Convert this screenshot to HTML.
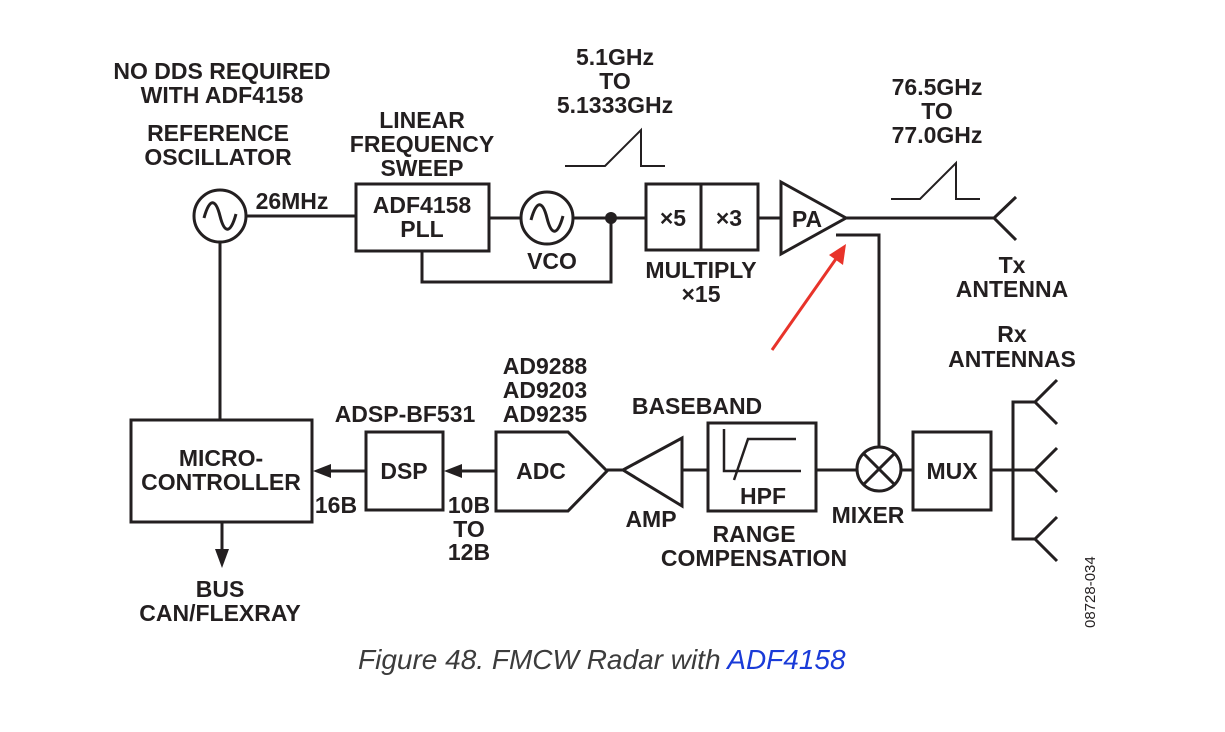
<!DOCTYPE html>
<html><head><meta charset="utf-8"><style>
html,body{margin:0;padding:0;background:#fff;}
svg{display:block;}
text{font-family:"Liberation Sans",Arial,sans-serif;font-weight:bold;font-size:23px;fill:#231f20;}
</style></head><body>
<svg width="1225" height="732" viewBox="0 0 1225 732" xmlns="http://www.w3.org/2000/svg">
<g stroke="#231f20" stroke-width="3" fill="none">
<circle cx="220" cy="216" r="26"/>
<path d="M204,218 C210,196 216,200 220,216 C224,232 230,236 236,214"/>
<line x1="246" y1="216" x2="356" y2="216"/>
<rect x="356" y="184" width="133" height="67"/>
<circle cx="547" cy="218" r="26"/>
<path d="M531,220 C537,198 543,202 547,218 C551,234 557,238 563,216"/>
<line x1="489" y1="218" x2="521" y2="218"/>
<line x1="573" y1="218" x2="646" y2="218"/>
<polyline points="422,251 422,282 611,282 611,218"/>
<rect x="646" y="184" width="112" height="66"/>
<line x1="701" y1="184" x2="701" y2="250"/>
<line x1="758" y1="218" x2="781" y2="218"/>
<polygon points="781,182 846,218 781,254"/>
<line x1="846" y1="218" x2="994" y2="218"/>
<polyline points="1016,197 994,218 1016,240"/>
<polyline points="836,235 879,235 879,447"/>
<polyline points="565,166 605,166 641,130 641,166 665,166" stroke-width="2"/>
<polyline points="891,199 920,199 956,163 956,199 980,199" stroke-width="2"/>
<line x1="220" y1="242" x2="220" y2="420"/>
<rect x="131" y="420" width="181" height="102"/>
<line x1="222" y1="522" x2="222" y2="550"/>
<rect x="366" y="432" width="77" height="78"/>
<line x1="330" y1="471" x2="366" y2="471"/>
<line x1="460" y1="471" x2="496" y2="471"/>
<polygon points="496,432 568,432 607,471 568,511 496,511"/>
<line x1="607" y1="470" x2="623" y2="470"/>
<polygon points="623,470 682,438 682,506"/>
<line x1="682" y1="470" x2="708" y2="470"/>
<rect x="708" y="423" width="108" height="88"/>
<polyline points="724,429 724,471 801,471" stroke-width="2.5"/>
<polyline points="734,480 748,439 796,439" stroke-width="2.5"/>
<line x1="816" y1="470" x2="857" y2="470"/>
<circle cx="879" cy="469" r="22"/>
<line x1="864" y1="454" x2="894" y2="484"/>
<line x1="894" y1="454" x2="864" y2="484"/>
<line x1="901" y1="470" x2="913" y2="470"/>
<rect x="913" y="432" width="78" height="78"/>
<line x1="991" y1="470" x2="1035" y2="470"/>
<polyline points="1035,402 1013,402 1013,539 1035,539"/>
<polyline points="1057,380 1035,402 1057,424"/>
<polyline points="1057,448 1035,470 1057,492"/>
<polyline points="1057,517 1035,539 1057,561"/>
</g>
<g fill="#231f20">
<circle cx="611" cy="218" r="6"/>
<polygon points="313,471 331,464 331,478"/>
<polygon points="444,471 462,464 462,478"/>
<polygon points="222,568 215,549 229,549"/>
</g>
<line x1="772" y1="350" x2="838" y2="256" stroke="#e8332a" stroke-width="3"/>
<polygon points="846,244 843,265 829,255" fill="#e8332a"/>
<g text-anchor="middle">
<text x="222" y="79">NO DDS REQUIRED</text>
<text x="222" y="103">WITH ADF4158</text>
<text x="218" y="141">REFERENCE</text>
<text x="218" y="165">OSCILLATOR</text>
<text x="292" y="209">26MHz</text>
<text x="422" y="128">LINEAR</text>
<text x="422" y="152">FREQUENCY</text>
<text x="422" y="176">SWEEP</text>
<text x="422" y="213">ADF4158</text>
<text x="422" y="237">PLL</text>
<text x="552" y="269">VCO</text>
<text x="615" y="65">5.1GHz</text>
<text x="615" y="89">TO</text>
<text x="615" y="113">5.1333GHz</text>
<text x="673" y="226">×5</text>
<text x="729" y="226">×3</text>
<text x="807" y="227">PA</text>
<text x="701" y="278">MULTIPLY</text>
<text x="701" y="302">×15</text>
<text x="937" y="95">76.5GHz</text>
<text x="937" y="119">TO</text>
<text x="937" y="143">77.0GHz</text>
<text x="1012" y="273">Tx</text>
<text x="1012" y="297">ANTENNA</text>
<text x="1012" y="342">Rx</text>
<text x="1012" y="367">ANTENNAS</text>
<text x="545" y="374">AD9288</text>
<text x="545" y="398">AD9203</text>
<text x="545" y="422">AD9235</text>
<text x="405" y="422">ADSP-BF531</text>
<text x="697" y="414">BASEBAND</text>
<text x="221" y="466">MICRO-</text>
<text x="221" y="490">CONTROLLER</text>
<text x="404" y="479">DSP</text>
<text x="541" y="479">ADC</text>
<text x="763" y="504">HPF</text>
<text x="952" y="479">MUX</text>
<text x="336" y="513">16B</text>
<text x="469" y="513">10B</text>
<text x="469" y="537">TO</text>
<text x="469" y="560">12B</text>
<text x="651" y="527">AMP</text>
<text x="754" y="542">RANGE</text>
<text x="754" y="566">COMPENSATION</text>
<text x="868" y="523">MIXER</text>
<text x="220" y="597">BUS</text>
<text x="220" y="621">CAN/FLEXRAY</text>
</g>
<text x="0" y="0" transform="translate(1095,628) rotate(-90)" style="font-weight:normal;font-size:15px">08728-034</text>
<text x="358" y="669" style="font-weight:normal;font-style:italic;font-size:28px;fill:#3c3c3c">Figure 48. FMCW Radar with <tspan fill="#1a3bd8">ADF4158</tspan></text>
</svg>
</body></html>
